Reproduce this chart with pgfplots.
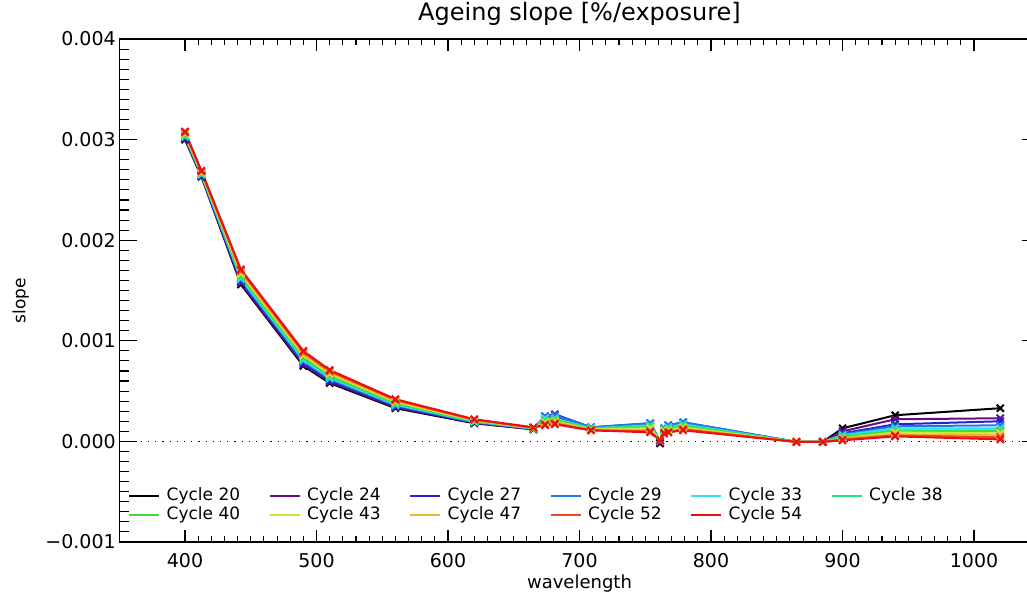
\documentclass[border=0pt]{standalone}
\usepackage{pgfplots}
\pgfplotsset{compat=1.18}
\usepackage{pgfplotstable}
\usepackage{fontspec}
\setmainfont{DejaVu Sans}

\definecolor{c20}{HTML}{000000}
\definecolor{c24}{HTML}{6A0D83}
\definecolor{c27}{HTML}{2A1FD0}
\definecolor{c29}{HTML}{1F78E8}
\definecolor{c33}{HTML}{30E0F8}
\definecolor{c38}{HTML}{20E878}
\definecolor{c40}{HTML}{48D838}
\definecolor{c43}{HTML}{C8E840}
\definecolor{c47}{HTML}{F0B830}
\definecolor{c52}{HTML}{F04820}
\definecolor{c54}{HTML}{E81010}

\pgfplotstableread{
wl c20 c24 c27 c29 c33 c38 c40 c43 c47 c52 c54
400 0.00300 0.003008 0.003016 0.003024 0.003032 0.00304 0.003048 0.003056 0.003064 0.003072 0.00308
412.5 0.00263 0.002636 0.002642 0.002648 0.002654 0.00266 0.002666 0.002672 0.002678 0.002684 0.00269
442.5 0.00156 0.001575 0.00159 0.001605 0.00162 0.001635 0.00165 0.001665 0.00168 0.001695 0.00171
490 0.00075 0.000765 0.00078 0.000795 0.00081 0.000825 0.00084 0.000855 0.00087 0.000885 0.0009
510 0.00058 0.000593 0.000606 0.000619 0.000632 0.000645 0.000658 0.000671 0.000684 0.000697 0.00071
560 0.00033 0.000339 0.000348 0.000357 0.000366 0.000375 0.000384 0.000393 0.000402 0.000411 0.00042
620 0.00018 0.000184 0.000188 0.000192 0.000196 0.0002 0.000204 0.000208 0.000212 0.000216 0.00022
665 0.00012 0.00012 0.000125 0.000125 0.00013 0.00013 0.00013 0.00013 0.000135 0.000135 0.00014
673.75 0.00021 0.00023 0.00025 0.00025 0.00023 0.00021 0.0002 0.00019 0.00018 0.00017 0.00016
681.25 0.00023 0.00024 0.00027 0.00026 0.00023 0.00022 0.00021 0.0002 0.00019 0.00018 0.00017
708.75 0.00013 0.00013 0.00014 0.00014 0.00013 0.00013 0.00012 0.00012 0.00012 0.00011 0.00011
753.75 0.00015 0.00016 0.00018 0.00018 0.00016 0.00015 0.00014 0.00013 0.00011 0.0001 0.00009
761.25 -0.00002 -0.00001 0.0 0.00001 0.00001 0.00001 0.00001 0.00001 0.00001 0.00001 0.00001
764.375 0.0001 0.00011 0.00013 0.00013 0.00012 0.00011 0.0001 0.0001 0.00009 0.00008 0.00008
767.5 0.00012 0.00013 0.00016 0.00016 0.00014 0.00013 0.00012 0.00011 0.0001 0.00009 0.00009
778.75 0.00016 0.00017 0.00019 0.00019 0.00017 0.00016 0.00015 0.00014 0.00013 0.00012 0.00011
865 -0.000005 -0.000005 -0.000005 -0.000005 -0.000005 -0.000005 -0.000005 -0.000005 -0.000005 -0.000005 -0.000005
885 -0.000005 -0.000005 -0.000005 -0.000005 -0.000005 -0.000005 -0.000005 -0.000005 -0.000005 -0.000005 -0.000005
900 0.00013 0.0001 0.00008 0.00007 0.00006 0.00005 0.00004 0.00003 0.00003 0.00002 0.00001
940 0.00026 0.00022 0.00017 0.00015 0.00013 0.00011 0.0001 0.00009 0.00007 0.00006 0.00005
1020 0.00033 0.00023 0.0002 0.00016 0.00013 0.00011 0.0001 0.00008 0.00006 0.00004 0.00002
}\data

\begin{document}
\begin{tikzpicture}
\begin{axis}[
  at={(0,0)}, anchor=south west,
  scale only axis, width=920.5bp, height=503bp,
  xmin=350, xmax=1050, ymin=-0.001, ymax=0.004,
  xtick={400,500,600,700,800,900,1000}, minor x tick num=9,
  ytick={-0.001,0,0.001,0.002,0.003,0.004}, minor y tick num=9,
  yticklabels={−0.001,0.000,0.001,0.002,0.003,0.004},
  scaled y ticks=false, scaled x ticks=false,
  /pgf/number format/assume math mode=true,
  xticklabel style={/pgf/number format/1000 sep={}},
  tick label style={font=\fontsize{19bp}{22bp}\selectfont},
  xticklabel style={anchor=base, yshift=-25bp},
  tick align=inside,
  major tick length=18bp, minor tick length=10bp,
  x tick style={/pgfplots/major tick length=12bp, /pgfplots/minor tick length=6bp},
  axis line style={line width=1.3bp},
  every tick/.style={black, line width=1.1bp},
  title={Ageing slope [\%/exposure]},
  title style={font=\fontsize{24bp}{28bp}\selectfont, at={(0.5,1)}, anchor=base, yshift=13bp},
  xlabel={wavelength},
  xlabel style={font=\fontsize{18bp}{22bp}\selectfont, at={(0.5,0)}, anchor=base, yshift=-46bp},
  ylabel={slope},
  ylabel style={font=\fontsize{17bp}{20bp}\selectfont, at={(-0.1021,0.48)}, anchor=base, rotate=0},
  every axis plot/.append style={line width=2bp, mark=x, mark size=5bp, mark options={solid, line width=2bp}},
  legend columns=6,
  legend cell align=left,
  legend image code/.code={\draw[#1] (0bp,0bp) -- (30bp,0bp);},
  legend style={at={(0.0095,0.036)}, anchor=south west, draw=none, fill=none,
    font=\fontsize{17bp}{20bp}\selectfont, inner sep=0pt, row sep=1bp,
    nodes={inner sep=1.5bp, text height=12bp, text depth=3bp},
    /tikz/every odd column/.append style={column sep=5bp},
    /tikz/every even column/.append style={column sep=27bp}},
]
\addplot[black, line width=1bp, dash pattern=on 1.2bp off 6bp, mark=none, forget plot] coordinates {(350,0) (1050,0)};
\addplot[c20] table[x=wl, y=c20] {\data}; \addlegendentry{Cycle 20}
\addplot[c24] table[x=wl, y=c24] {\data}; \addlegendentry{Cycle 24}
\addplot[c27] table[x=wl, y=c27] {\data}; \addlegendentry{Cycle 27}
\addplot[c29] table[x=wl, y=c29] {\data}; \addlegendentry{Cycle 29}
\addplot[c33] table[x=wl, y=c33] {\data}; \addlegendentry{Cycle 33}
\addplot[c38] table[x=wl, y=c38] {\data}; \addlegendentry{Cycle 38}
\addplot[c40] table[x=wl, y=c40] {\data}; \addlegendentry{Cycle 40}
\addplot[c43] table[x=wl, y=c43] {\data}; \addlegendentry{Cycle 43}
\addplot[c47] table[x=wl, y=c47] {\data}; \addlegendentry{Cycle 47}
\addplot[c52] table[x=wl, y=c52] {\data}; \addlegendentry{Cycle 52}
\addplot[c54] table[x=wl, y=c54] {\data}; \addlegendentry{Cycle 54}
\end{axis}
\pgfresetboundingbox
\path[use as bounding box] (-119.25bp,-55bp) rectangle (907.75bp,542bp);
\end{tikzpicture}
\end{document}
